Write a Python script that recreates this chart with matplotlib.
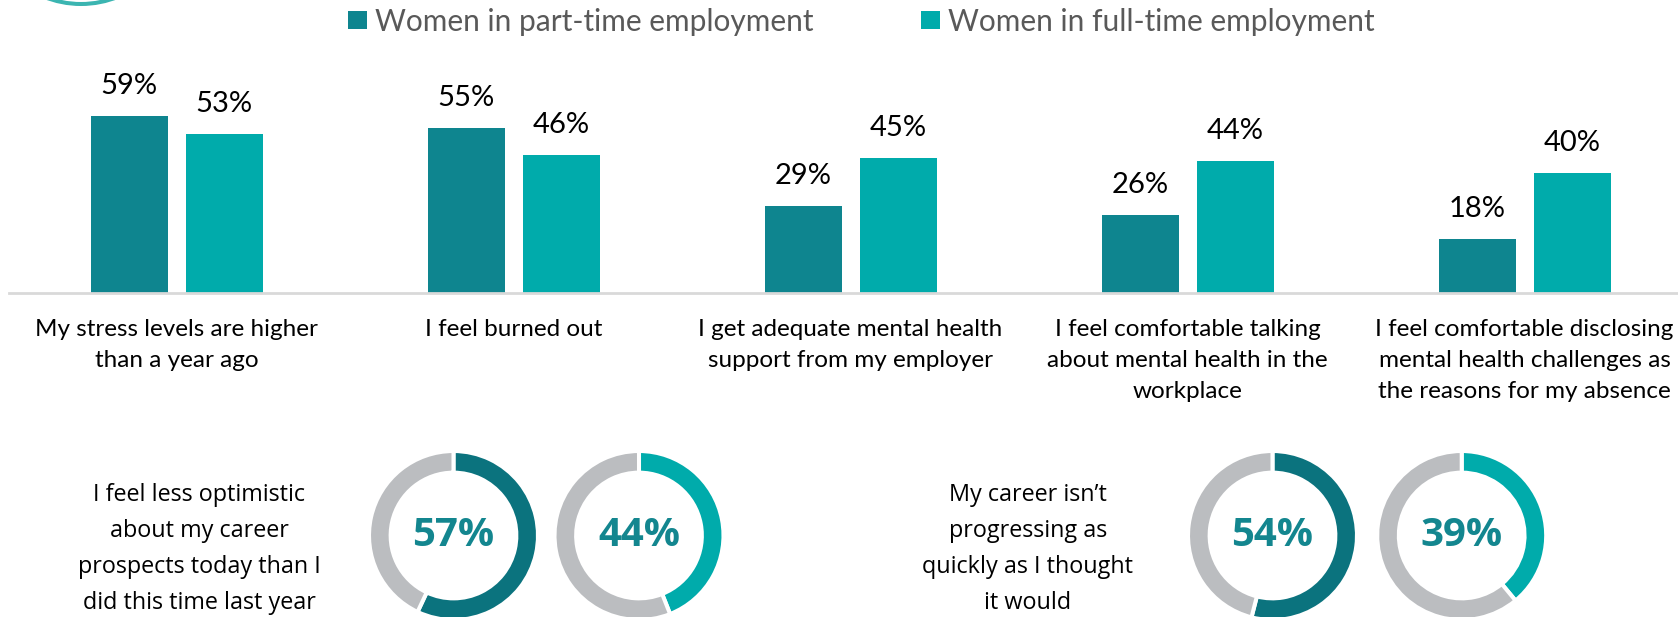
import numpy as np
import matplotlib
matplotlib.use('Agg')
import matplotlib.pyplot as plt
from matplotlib.patches import Circle

W, H = 1678, 617
DPI = 100

# data
categories = [
    'My stress levels are higher\nthan a year ago',
    'I feel burned out',
    'I get adequate mental health\nsupport from my employer',
    'I feel comfortable talking\nabout mental health in the\nworkplace',
    'I feel comfortable disclosing\nmental health challenges as\nthe reasons for my absence',
]
part_time = [59, 55, 29, 26, 18]
full_time = [53, 46, 45, 44, 40]
series_names = ['Women in part-time employment', 'Women in full-time employment']

donut_questions = [
    'I feel less optimistic\nabout my career\nprospects today than I\ndid this time last year',
    'My career isn\u2019t\nprogressing as\nquickly as I thought\nit would',
]
donut_part = [57, 54]
donut_full = [44, 39]

c_part = '#0E858F'
c_full = '#00ABAB'
c_part_ring = '#0B737E'
c_gray = '#BBBDC0'
c_pct = '#13868F'

plt.rcParams['font.family'] = ['Lato', 'DejaVu Sans']
seg = ['Open Sans', 'DejaVu Sans']

fig = plt.figure(figsize=(W / DPI, H / DPI), dpi=DPI)

def fx(x):
    return x / W

def fy(y):
    return 1 - y / H

# bar chart, positioned in pixels
base = 292.7
step = 337.0
first = 176.6
ax = fig.add_axes([0, fy(base), 1, base / H])
ax.set_xlim(-first / step, (W - first) / step)
ax.set_ylim(0, base / 3.0)
ax.axis('off')
x = np.arange(len(categories))
bw = 77 / step
off = 47.5 / step
b1 = ax.bar(x - off, part_time, bw, color=c_part, label=series_names[0])
b2 = ax.bar(x + off, full_time, bw, color=c_full, label=series_names[1])
ax.axhline(0, xmin=8.5 / W, color='#D9D9D9', lw=2, clip_on=False)

for bars, vals in ((b1, part_time), (b2, full_time)):
    for r, v in zip(bars, vals):
        ax.annotate(f'{v}%', (r.get_x() + r.get_width() / 2, v), xytext=(0, 30),
                    textcoords='offset pixels', ha='center', va='center', fontsize=21)

for i, c in enumerate(categories):
    ax.annotate(c, (i, 0), xytext=(0, -26), textcoords='offset pixels', ha='center',
                va='top', fontsize=17.5, linespacing=1.6, annotation_clip=False)

fig.legend(handles=[b1, b2], loc='center left', bbox_to_anchor=(fx(348), fy(21.5)),
           ncol=2, frameon=False, fontsize=21.5, handlelength=0.64, handleheight=0.57,
           handletextpad=0.27, columnspacing=3.6, borderpad=0, borderaxespad=0,
           labelcolor='#595959')

# donuts
cy = 535.5
R = 82.5
lim = 1.05
centers = [453.5, 639, 1272.5, 1461.7]
vals = [donut_part[0], donut_full[0], donut_part[1], donut_full[1]]
cols = [c_part_ring, c_full, c_part_ring, c_full]
for cx, v, col in zip(centers, vals, cols):
    dax = fig.add_axes([fx(cx - R * lim), fy(cy + R * lim), 2 * R * lim / W, 2 * R * lim / H])
    dax.pie([v, 100 - v], colors=[col, c_gray], startangle=90, counterclock=False,
            radius=1.024, wedgeprops=dict(width=0.262, edgecolor='white', linewidth=2.9))
    dax.set_xlim(-lim, lim)
    dax.set_ylim(-lim, lim)
    dax.text(0, 0, f'{v}%', ha='center', va='center', fontsize=29, fontweight='bold',
             color=c_pct, family=seg)

for qx, q in zip([199, 1028], donut_questions):
    fig.text(fx(qx), fy(549), q, ha='center', va='center', fontsize=16.8,
             linespacing=1.68, family=seg)

# decorative ring cut off at the top left
fig.add_artist(Circle((81 / DPI, (H + 94.5) / DPI), 98.5 / DPI, transform=fig.dpi_scale_trans,
                      fill=False, lw=2.9, color='#3BB5B1'))

fig.savefig('out.png', dpi=DPI)
